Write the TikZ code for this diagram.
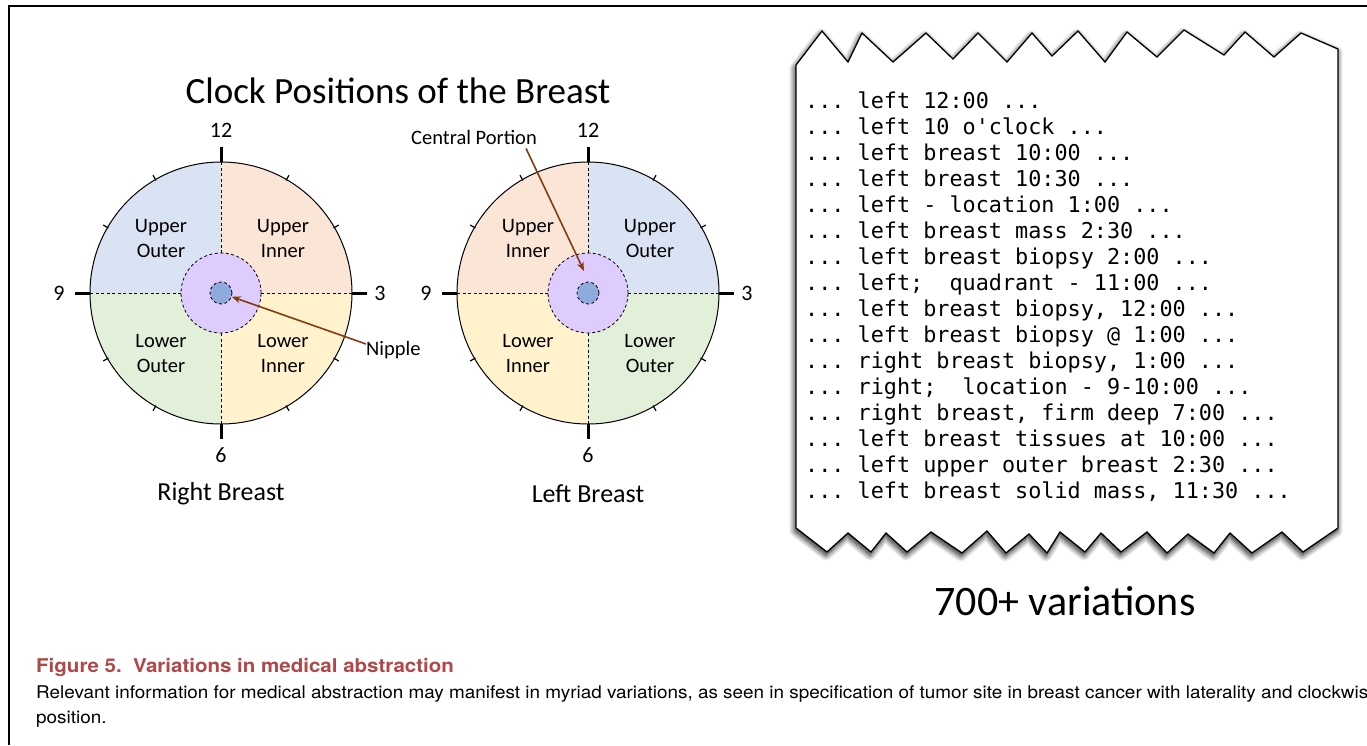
\documentclass[tikz,border=0pt]{standalone}
\usepackage{fontspec}
\setmainfont{Carlito}
\setmonofont{DejaVu Sans Mono}
\newfontfamily\capfont[FakeStretch=1.08]{TeX Gyre Heros}
\usetikzlibrary{arrows.meta,shadows.blur}
\definecolor{uoblue}{HTML}{DAE3F3}
\definecolor{uipeach}{HTML}{FBE5D6}
\definecolor{logreen}{HTML}{E2F0D9}
\definecolor{liyellow}{HTML}{FFF2CC}
\definecolor{cpviolet}{HTML}{DFCCFE}
\definecolor{nipblue}{HTML}{8FAADC}
\definecolor{arrowbrown}{HTML}{843C0C}
\definecolor{figred}{HTML}{B04848}
\newcommand{\trail}{...}

\begin{document}
\begin{tikzpicture}[x=1pt,y=-1pt]
	\tikzset{every node/.style={inner sep=0pt}}
	\tikzset{quad/.style={align=center,font=\fontsize{20.5}{25}\selectfont}}
	\tikzset{hour/.style={font=\fontsize{22}{22}\selectfont}}
	\tikzset{callout/.style={font=\fontsize{20.5}{20.5}\selectfont}}
	\tikzset{pointer/.style={draw=arrowbrown,line width=1.6pt,-{Stealth[length=9pt,width=7pt]}}}
	\tikzset{bigtick/.style={line width=3pt}}
	\tikzset{smalltick/.style={line width=1.2pt}}
	\tikzset{divider/.style={line width=0.8pt,dash pattern=on 3pt off 2.5pt}}
	\tikzset{snippet/.style={anchor=base west,font=\ttfamily\fontsize{21.8}{26}\selectfont}}
	\useasboundingbox (0,0) rectangle (1367,745);
	\draw[line width=2pt] (9,745) -- (9,6) -- (1367,6);
	\node[font=\fontsize{37}{37}\selectfont] (title) at (398,91) {Clock Positions of the Breast};
	\foreach \side/\cx/\cul/\cur/\cll/\clr/\tul/\tur/\tll/\tlr/\bname in {R/221/uoblue/uipeach/logreen/liyellow/Upper\\Outer/Upper\\Inner/Lower\\Outer/Lower\\Inner/Right Breast, L/588/uipeach/uoblue/liyellow/logreen/Upper\\Inner/Upper\\Outer/Lower\\Inner/Lower\\Outer/Left Breast}{
		\coordinate (\side-c) at (\cx,293);
		\fill[\cul] (\side-c) -- ++(-131,0) arc (180:270:131) -- cycle;
		\fill[\cur] (\side-c) -- ++(0,-131) arc (270:360:131) -- cycle;
		\fill[\clr] (\side-c) -- ++(131,0) arc (0:90:131) -- cycle;
		\fill[\cll] (\side-c) -- ++(0,131) arc (90:180:131) -- cycle;
		\foreach \a in {0,90,180,270} \draw[divider] (\side-c) ++(\a:40) -- ++(\a:91);
		\node[circle,draw,divider,fill=cpviolet,minimum size=80pt] (\side-cp) at (\side-c) {};
		\node[circle,draw,divider,fill=nipblue,minimum size=22pt] (\side-nip) at (\side-c) {};
		\draw[line width=1pt] (\side-c) circle (131);
		\foreach \a in {30,60,120,150,210,240,300,330} \draw[smalltick] (\side-c) ++(\a:130) -- ++(\a:6);
		\foreach \a in {0,90,180,270} \draw[bigtick] (\side-c) ++(\a:131) -- ++(\a:15);
		\path (\side-c) ++(0,-163) node[hour] (\side-h12) {12};
		\path (\side-c) ++(159,0) node[hour] (\side-h3) {3};
		\path (\side-c) ++(0,162) node[hour] (\side-h6) {6};
		\path (\side-c) ++(-162,0) node[hour] (\side-h9) {9};
		\path (\side-c) ++(-60,-55) node[quad] (\side-ul) {\tul};
		\path (\side-c) ++(62,-55) node[quad] (\side-ur) {\tur};
		\path (\side-c) ++(-60,60) node[quad] (\side-ll) {\tll};
		\path (\side-c) ++(62,60) node[quad] (\side-lr) {\tlr};
		\path (\side-c) ++(0,201) node[font=\fontsize{26}{26}\selectfont] (\side-name) {\bname};
	}
	\node[callout,anchor=west] (nip-label) at (366,350) {Nipple};
	\draw[pointer] ([yshift=6pt]nip-label.west) -- (R-nip);
	\node[callout] (cp-label) at (474,137) {Central Portion};
	\coordinate (L-aim) at (584,271);
	\draw[pointer] ([xshift=-11pt,yshift=-4pt]cp-label.south east) -- (L-aim);
	\draw[line width=1.3pt,line join=miter,fill=white,blur shadow={shadow xshift=-1pt,shadow yshift=-3pt,shadow blur radius=6pt,shadow blur steps=12,shadow opacity=95}]
		(796,65) -- (822,31) -- (848,62) -- (862,33) -- (893,62) -- (926,33) -- (953,59) -- (978,33) -- (1007,62) -- (1032,33) -- (1052,56) -- (1078,31) -- (1105,62) -- (1127,32) -- (1157,57) -- (1184,30) -- (1224,55) -- (1245,32) -- (1274,57) -- (1301,33) -- (1338,49)
		-- (1338,528) -- (1303,552) -- (1282,532) -- (1252,553) -- (1230,533) -- (1214,553) -- (1188,534) -- (1167,553) -- (1147,532) -- (1121,552) -- (1101,533) -- (1085,552) -- (1060,532) -- (1047,553) -- (1029,534) -- (1006,553) -- (987,531) -- (962,553) -- (931,532) -- (907,552) -- (886,533) -- (871,552) -- (848,533) -- (827,552) -- (796,528) -- cycle;
	\foreach \t [count=\i] in {{\trail\ left 12:00 \trail},{\trail\ left 10 o'clock \trail},{\trail\ left breast 10:00 \trail},{\trail\ left breast 10:30 \trail},{\trail\ left - location 1:00 \trail},{\trail\ left breast mass 2:30 \trail},{\trail\ left breast biopsy 2:00 \trail},{\trail\ left;~ quadrant - 11:00 \trail},{\trail\ left breast biopsy, 12:00 \trail},{\trail\ left breast biopsy @ 1:00 \trail},{\trail\ right breast biopsy, 1:00 \trail},{\trail\ right;~ location - 9-10:00 \trail},{\trail\ right breast, firm deep 7:00 \trail},{\trail\ left breast tissues at 10:00 \trail},{\trail\ left upper outer breast 2:30 \trail},{\trail\ left breast solid mass, 11:30 \trail}}
		\node[snippet] (line-\i) at (805,82+26*\i) {\t};
	\node[font=\fontsize{42}{42}\selectfont] (count) at (1065,601) {700+ variations};
	\node[anchor=base west,font=\capfont\bfseries\fontsize{19}{19}\selectfont,text=figred] (fig-title) at (36,672) {Figure 5.~~Variations in medical abstraction};
	\node[anchor=base west,font=\capfont\fontsize{17.5}{17.5}\selectfont] (fig-body1) at (36,698) {Relevant information for medical abstraction may manifest in myriad variations, as seen in specification of tumor site in breast cancer with laterality and clockwise};
	\node[anchor=base west,font=\capfont\fontsize{17.5}{17.5}\selectfont] (fig-body2) at (36,723) {position.};
\end{tikzpicture}
\end{document}
